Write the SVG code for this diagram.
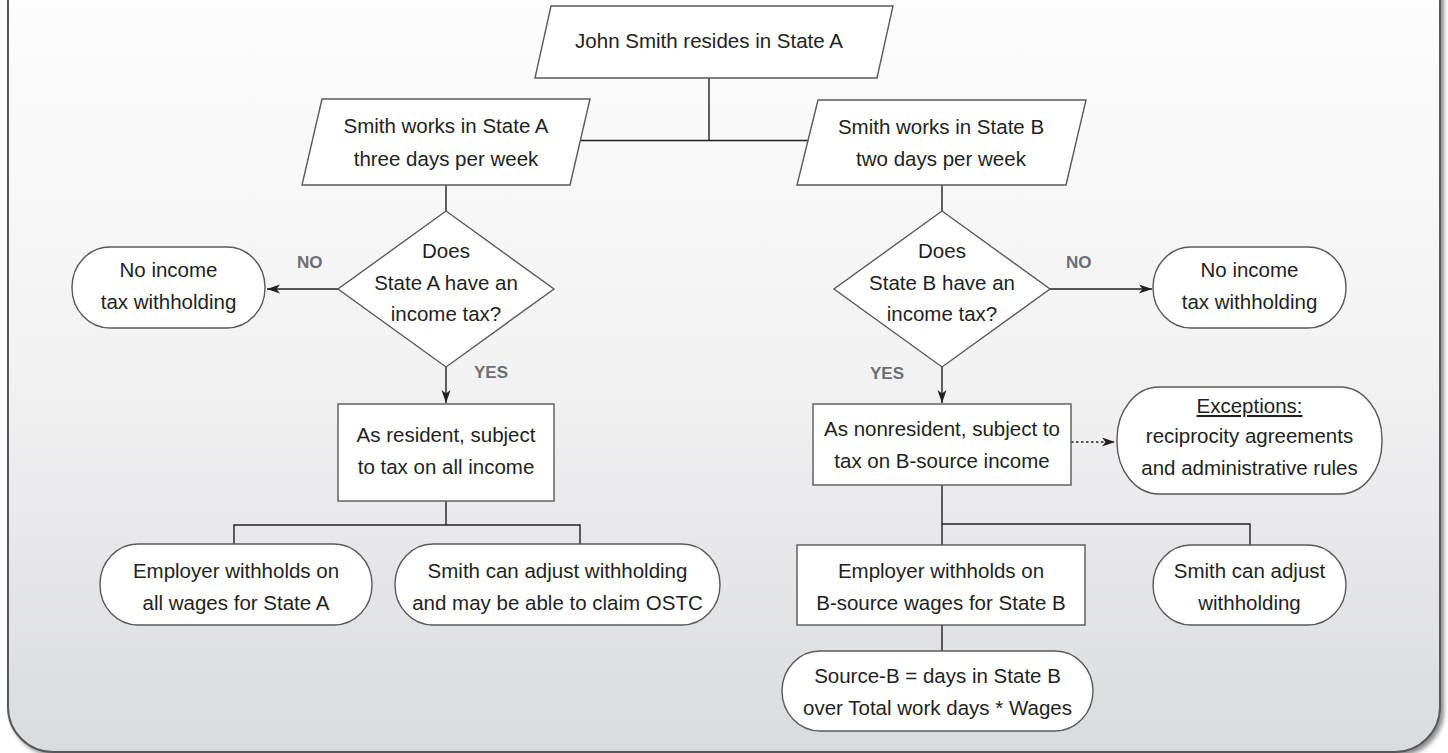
<svg xmlns="http://www.w3.org/2000/svg" width="1448" height="753" viewBox="0 0 1448 753">
<defs>
<linearGradient id="bg" x1="0" y1="0" x2="0" y2="1">
<stop offset="0" stop-color="#fdfdfd"/>
<stop offset="0.5" stop-color="#f2f2f3"/>
<stop offset="1" stop-color="#dadbde"/>
</linearGradient>
<filter id="sh" x="-5%" y="-5%" width="110%" height="110%">
<feDropShadow dx="3" dy="3" stdDeviation="2" flood-color="#000" flood-opacity="0.45"/>
</filter>
<marker id="ah" markerUnits="userSpaceOnUse" markerWidth="14" markerHeight="10" refX="13" refY="5" orient="auto">
<path d="M0,0.5 L13,5 L0,9.5 L3.5,5 Z" fill="#231f20"/>
</marker>
<style>
.n{fill:#fff;stroke:#58595b;stroke-width:1.4}
.t{font-family:"Liberation Sans",Arial,sans-serif;font-size:20.5px;fill:#231f20;text-anchor:middle}
.l{font-family:"Liberation Sans",Arial,sans-serif;font-size:17px;font-weight:bold;fill:#6d6e70}
.c{fill:none;stroke:#231f20;stroke-width:1.4}
</style>
</defs>
<path d="M8,-10 L8,707 A45,45 0 0 0 53,752 L1395,752 A45,45 0 0 0 1440,707 L1440,-10" fill="url(#bg)" stroke="#58595b" stroke-width="2" filter="url(#sh)"/>
<g id="connectors">
<path class="c" d="M709,78 V140.5 M580,140.5 H808"/>
<path class="c" d="M446,185 V211 M942,185 V211"/>
<path class="c" d="M338,289 H267" marker-end="url(#ah)"/>
<path class="c" d="M1050,289 H1152" marker-end="url(#ah)"/>
<path class="c" d="M446,367 V403" marker-end="url(#ah)"/>
<path class="c" d="M942,367 V403" marker-end="url(#ah)"/>
<path class="c" d="M446,501 V525 M234,544 V525 H580 V544"/>
<path class="c" d="M942,485 V545 M942,524 H1250 V545"/>
<path class="c" d="M942,625 V651"/>
<path class="c" d="M1071,442 H1115" stroke-dasharray="2.5,2.5" marker-end="url(#ah)"/>
<text class="l" x="297" y="268">NO</text>
<text class="l" x="474" y="378">YES</text>
<text class="l" x="1066" y="268">NO</text>
<text class="l" x="870" y="379">YES</text>
</g>
<g id="start">
<polygon class="n" points="551,6 893,6 877,78 535,78"/>
<text class="t" x="709" y="48">John Smith resides in State A</text>
</g>
<g id="worksA">
<polygon class="n" points="322,99 590,99 570,185 302,185"/>
<text class="t" x="446" y="133">Smith works in State A</text>
<text class="t" x="446" y="166">three days per week</text>
</g>
<g id="worksB">
<polygon class="n" points="818,100 1086,100 1066,185 797,185"/>
<text class="t" x="941" y="134">Smith works in State B</text>
<text class="t" x="941" y="166">two days per week</text>
</g>
<g id="decisionA">
<polygon class="n" points="446,211 554,289 446,367 338,289"/>
<text class="t" x="446" y="258">Does</text>
<text class="t" x="446" y="290">State A have an</text>
<text class="t" x="446" y="321">income tax?</text>
</g>
<g id="decisionB">
<polygon class="n" points="942,211 1050,289 942,367 834,289"/>
<text class="t" x="942" y="258">Does</text>
<text class="t" x="942" y="290">State B have an</text>
<text class="t" x="942" y="321">income tax?</text>
</g>
<g id="noA">
<rect class="n" x="72" y="247" width="193" height="81" rx="38" ry="40"/>
<text class="t" x="168.5" y="277">No income</text>
<text class="t" x="168.5" y="309">tax withholding</text>
</g>
<g id="noB">
<rect class="n" x="1153" y="247" width="193" height="81" rx="38" ry="40"/>
<text class="t" x="1249.5" y="277">No income</text>
<text class="t" x="1249.5" y="309">tax withholding</text>
</g>
<g id="residentA">
<rect class="n" x="338" y="404" width="216" height="97"/>
<text class="t" x="446" y="442">As resident, subject</text>
<text class="t" x="446" y="474">to tax on all income</text>
</g>
<g id="nonresidentB">
<rect class="n" x="813" y="404" width="258" height="81"/>
<text class="t" x="942" y="436">As nonresident, subject to</text>
<text class="t" x="942" y="468">tax on B-source income</text>
</g>
<g id="exceptions">
<rect class="n" x="1117" y="387" width="265" height="107" rx="42" ry="52"/>
<text class="t" x="1249.5" y="413" text-decoration="underline">Exceptions:</text>
<text class="t" x="1249.5" y="443">reciprocity agreements</text>
<text class="t" x="1249.5" y="475">and administrative rules</text>
</g>
<g id="employerA">
<rect class="n" x="100" y="544" width="272" height="81" rx="38" ry="40"/>
<text class="t" x="236" y="578">Employer withholds on</text>
<text class="t" x="236" y="610">all wages for State A</text>
</g>
<g id="adjustA">
<rect class="n" x="395" y="544" width="325" height="81" rx="38" ry="40"/>
<text class="t" x="557.5" y="578">Smith can adjust withholding</text>
<text class="t" x="557.5" y="610">and may be able to claim OSTC</text>
</g>
<g id="employerB">
<rect class="n" x="797" y="545" width="288" height="80"/>
<text class="t" x="941" y="578">Employer withholds on</text>
<text class="t" x="941" y="610">B-source wages for State B</text>
</g>
<g id="adjustB">
<rect class="n" x="1153" y="545" width="193" height="80" rx="38" ry="40"/>
<text class="t" x="1249.5" y="578">Smith can adjust</text>
<text class="t" x="1249.5" y="610">withholding</text>
</g>
<g id="sourceB">
<rect class="n" x="782" y="651" width="311" height="80" rx="38" ry="40"/>
<text class="t" x="937.5" y="683">Source-B = days in State B</text>
<text class="t" x="937.5" y="715">over Total work days * Wages</text>
</g>
</svg>
